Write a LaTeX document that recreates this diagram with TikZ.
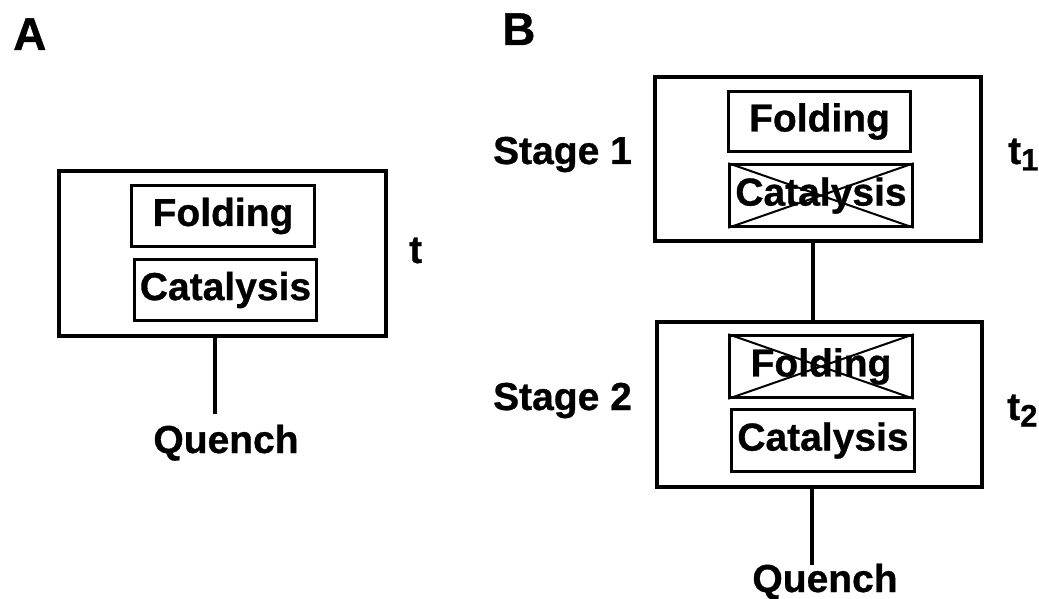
\documentclass[tikz,border=0pt]{standalone}
\usepackage{fontspec}
\setmainfont{Liberation Sans}[BoldFeatures={FakeBold=0.8}]
\begin{document}
\begin{tikzpicture}[x=1pt,y=-1pt,
  lbl/.style={font=\fontsize{39}{45}\selectfont\bfseries, inner sep=0pt},
  biglbl/.style={font=\fontsize{46}{52}\selectfont\bfseries, inner sep=0pt},
  stagebox/.style={draw, line width=4pt, inner sep=0pt},
  innerbox/.style={draw, line width=2.6pt, inner sep=0pt, font=\fontsize{39}{45}\selectfont\bfseries},
  conn/.style={line width=3.5pt},
  crossln/.style={line width=2pt}]
\useasboundingbox (0,0) rectangle (1039,599);
% Panel A
\node[biglbl, anchor=base west] (A) at (13,50) {A};
\node[stagebox, minimum width=327pt, minimum height=165pt] (oA) at (222.5,253.5) {};
\node[innerbox, minimum width=183pt, minimum height=61pt] (fA) at (223,216) {Folding};
\node[innerbox, minimum width=182pt, minimum height=61pt] (cA) at (225.5,290) {Catalysis};
\node[lbl, anchor=base west] (tA) at (409,263) {t};
\node[lbl, anchor=base] (qA) at (226,453) {Quench};
\coordinate (qAtop) at (215,414);
\draw[conn] (oA.south -| qAtop) -- (qAtop);
% Panel B
\node[biglbl, anchor=base west] (B) at (502,45) {B};
\node[stagebox, minimum width=326pt, minimum height=164pt] (s1) at (818,159) {};
\node[innerbox, minimum width=182pt, minimum height=60pt] (fB1) at (819.5,121.5) {Folding};
\node[innerbox, minimum width=183pt, minimum height=62pt] (cB1) at (821,195.5) {Catalysis};
\draw[crossln] (cB1.north west) -- (cB1.south east) (cB1.north east) -- (cB1.south west);
\node[lbl, anchor=base] (st1) at (562.5,164) {Stage 1};
\node[lbl, anchor=base west] (t1) at (1008,164) {t\raisebox{-6.5pt}{\fontsize{31}{31}\selectfont 1}};
\node[stagebox, minimum width=325pt, minimum height=165pt] (s2) at (819.5,404.5) {};
\node[innerbox, minimum width=183pt, minimum height=62pt] (fB2) at (821,366.5) {Folding};
\draw[crossln] (fB2.north west) -- (fB2.south east) (fB2.north east) -- (fB2.south west);
\node[innerbox, minimum width=183pt, minimum height=62pt] (cB2) at (823,440.5) {Catalysis};
\node[lbl, anchor=base] (st2) at (562.5,410) {Stage 2};
\node[lbl, anchor=base west] (t2) at (1007,420) {t\raisebox{-6.5pt}{\fontsize{31}{31}\selectfont 2}};
\node[lbl, anchor=base] (qB) at (825,592) {Quench};
\coordinate (qBtop) at (812,565);
\draw[conn] (s1.south -| 813,0) -- (s2.north -| 813,0);
\draw[conn] (s2.south -| qBtop) -- (qBtop);
\end{tikzpicture}
\end{document}
